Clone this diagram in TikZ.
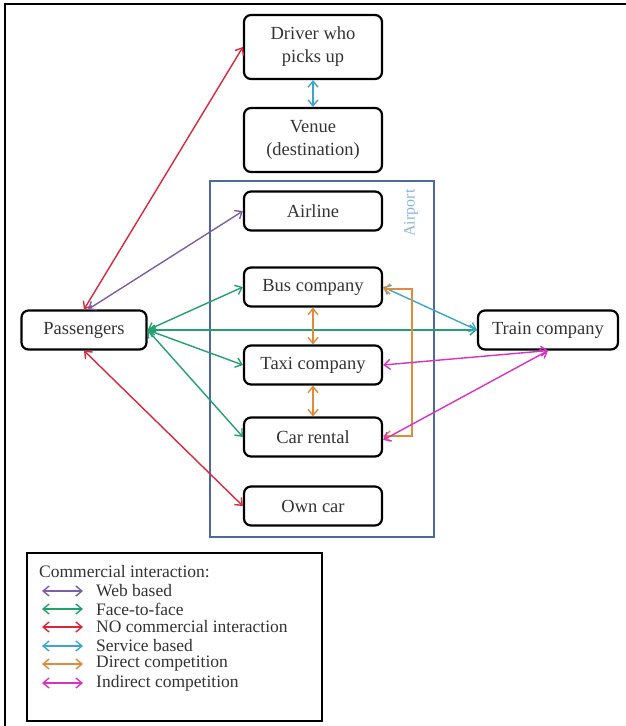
\documentclass[tikz,border=0pt]{standalone}
\usepackage{fontspec}
\setmainfont{Liberation Serif}
\usetikzlibrary{arrows.meta}
\definecolor{cweb}{HTML}{7B5EA7}
\definecolor{cface}{HTML}{23A06E}
\definecolor{cno}{HTML}{D9283C}
\definecolor{cserv}{HTML}{3AA6D0}
\definecolor{cdir}{HTML}{E08A3C}
\definecolor{cind}{HTML}{D633C0}
\definecolor{cair}{HTML}{4D6B9A}
\definecolor{cairtxt}{HTML}{8AB4E0}
\begin{document}
\begin{tikzpicture}[x=1pt,y=-1pt,
  box/.style={draw, line width=2.2pt, rounded corners=7pt, minimum width=138pt,
    minimum height=39pt, align=center, inner sep=2pt,
    font=\fontsize{18.5}{23}\selectfont, text=black!80},
  con/.style={line width=1.4pt, {Straight Barb[length=6pt,width=10pt]}-{Straight Barb[length=6pt,width=10pt]}},
  legtxt/.style={anchor=west, inner sep=0pt, font=\fontsize{17.5}{20}\selectfont, text=black!80}
]
\useasboundingbox (0,0) rectangle (626,726);
\draw[line width=2pt] (5,726) -- (5,4) -- (626,4);

% airport frame
\draw[cair, line width=1.6pt] (210,181) rectangle (434,537);
\node[rotate=90, text=cairtxt, font=\fontsize{16}{18}\selectfont, inner sep=0pt] (aplbl) at (411,213) {Airport};

% nodes
\node[box, minimum height=64pt] (drv) at (313,47) {Driver who\\picks up};
\node[box, minimum height=64pt] (ven) at (313,140) {Venue\\(destination)};
\node[box] (air) at (313,211) {Airline};
\node[box] (bus) at (313,287) {Bus company};
\node[box] (taxi) at (313,365) {Taxi company};
\node[box] (car) at (313,437) {Car rental};
\node[box] (own) at (313,506) {Own car};
\node[box, minimum width=125pt] (pas) at (84,330) {Passengers};
\node[box, minimum width=140pt] (trn) at (548,330) {Train company};

% connectors
\draw[con, cserv] (drv) -- (ven);
\draw[con, cno] (pas.north) -- (drv.west);
\draw[con, cweb] ([xshift=4pt]pas.north) -- (air.west);
\draw[con, cface] (pas.east) -- (bus.west);
\draw[con, cface] (pas.east) -- (taxi.west);
\draw[con, cface] (pas.east) -- (car.west);
\draw[con, cface] (pas.east) -- (trn.west);
\draw[con, cno] (pas.south) -- (own.west);
\draw[con, cserv] (bus.east) -- (trn.west);
\draw[con, cdir] (bus.south) -- (taxi.north);
\draw[con, cdir] (taxi.south) -- (car.north);
\draw[con, cdir] ([yshift=-2pt]bus.east) -- ++(29,0) |- ([yshift=1pt]car.east);
\draw[con, cind] (trn.south) -- (taxi.east);
\draw[con, cind] (trn.south) -- ([yshift=-3pt]car.east);

% legend
\node[draw, line width=2pt, minimum width=295pt, minimum height=168pt, inner sep=0pt] (leg) at (174.5,637) {};
\node[legtxt] (legt) at (39,572) {Commercial interaction:};
\foreach \y/\c/\t/\n in {591/cweb/Web based/a, 609/cface/Face-to-face/b, 627/cno/NO commercial interaction/c, 646/cserv/Service based/d, 664/cdir/Direct competition/e, 683/cind/Indirect competition/f}{
  \coordinate (ls\n) at (42,\y);
  \coordinate (le\n) at (83,\y);
  \draw[con, \c] (ls\n) -- (le\n);
  \node[legtxt] (lt\n) at (96,\y) {\t};
}
\end{tikzpicture}
\end{document}
